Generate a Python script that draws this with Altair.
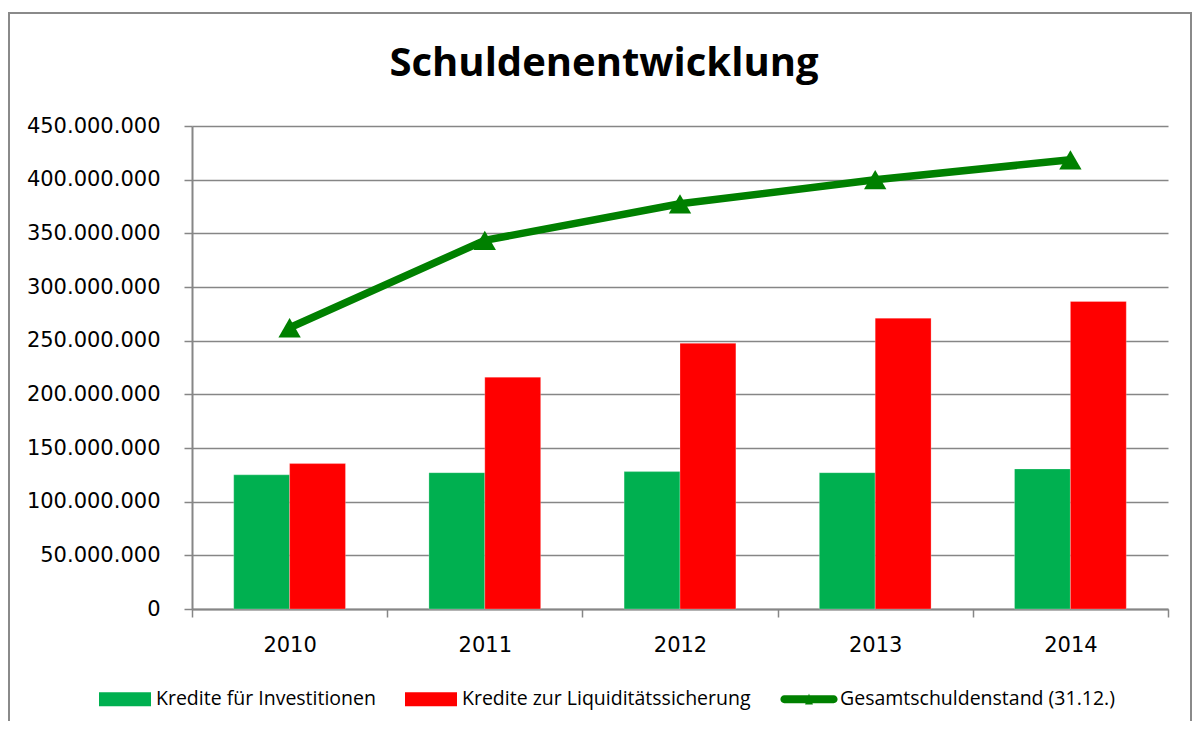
import altair as alt
import pandas as pd

years = ["2010", "2011", "2012", "2013", "2014"]
invest = [125000000, 127000000, 128000000, 127000000, 130500000]
liquid = [135500000, 216000000, 247500000, 271000000, 286500000]
total = [262000000, 343500000, 377500000, 400000000, 418500000]
series = ["Kredite für Investitionen", "Kredite zur Liquiditätssicherung", "Gesamtschuldenstand (31.12.)"]
colors = ["#00B050", "#FF0000", "#008000"]
y_ticks = [0, 50000000, 100000000, 150000000, 200000000, 250000000, 300000000, 350000000, 400000000, 450000000]

bars_df = pd.DataFrame(
    [{"year": y, "series": series[0], "value": v} for y, v in zip(years, invest)]
    + [{"year": y, "series": series[1], "value": v} for y, v in zip(years, liquid)]
)
line_df = pd.DataFrame([{"year": y, "series": series[2], "value": v} for y, v in zip(years, total)])
all_df = pd.concat([bars_df, line_df], ignore_index=True)

GRAY = "#868686"
color_scale = alt.Scale(domain=series, range=colors)

RECT = "M-1,-0.27H1V0.27H-1Z"
LINE = ("M-0.95,-0.15H0.95A0.15,0.15 0 0 1 0.95,0.15H-0.95A0.15,0.15 0 0 1 -0.95,-0.15Z"
        "M-0.15,0.2L0,-0.22L0.15,0.2Z")
shape_scale = alt.Scale(domain=series, range=[RECT, RECT, LINE])

legend = alt.Legend(
    orient="none", legendX=-93, legendY=547, direction="horizontal", title=None,
    labelFont="Open Sans", labelFontSize=19.5, labelColor="black", labelOffset=5,
    labelLimit=500, columnPadding=29, symbolSize=2704, symbolOpacity=1,
    symbolStrokeWidth=0,
)

x_enc = alt.X(
    "year:N",
    scale=alt.Scale(paddingInner=0, paddingOuter=0),
    axis=alt.Axis(title=None, labelAngle=0, tickBand="extent", labelFont="DejaVu Sans",
                  labelFontSize=21, labelColor="black", labelPadding=17, tickSize=8,
                  tickColor=GRAY, tickWidth=1.5, domainColor=GRAY, domainWidth=2, grid=False),
)
y_enc = alt.Y(
    "value:Q",
    scale=alt.Scale(domain=[0, 450000000], nice=False),
    axis=alt.Axis(title=None, values=y_ticks,
                  labelExpr="replace(format(datum.value, ','), regexp(',', 'g'), '.')",
                  labelFont="DejaVu Sans", labelFontSize=21, labelColor="black",
                  labelPadding=24, tickSize=8, tickColor=GRAY, tickWidth=1.5,
                  domainColor=GRAY, domainWidth=2, gridColor=GRAY, gridWidth=1.5),
)
color_nolegend = alt.Color("series:N", scale=color_scale, legend=None)

frame = alt.Chart(pd.DataFrame({"a": [0]})).mark_rect(
    fillOpacity=0, stroke="#8a8a8a", strokeWidth=2
).encode(x=alt.value(-183), x2=alt.value(999), y=alt.value(-113), y2=alt.value(700))

bars = alt.Chart(bars_df).mark_bar(stroke="#ffffff", strokeWidth=0.5, strokeOpacity=0.5).encode(
    x=x_enc,
    xOffset=alt.XOffset("series:N", scale=alt.Scale(domain=series[:2], paddingInner=0, paddingOuter=0.7465)),
    y=y_enc,
    color=color_nolegend,
)
line = alt.Chart(line_df).mark_line(strokeWidth=7.5).encode(x=x_enc, y=y_enc, color=color_nolegend)
points = alt.Chart(line_df).mark_point(shape="triangle-up", filled=True, size=500, opacity=1).encode(
    x=x_enc, y=y_enc, color=color_nolegend
)
legend_layer = alt.Chart(all_df).transform_filter("datum.value < 0").mark_point(filled=True).encode(
    x=x_enc, y=y_enc,
    color=alt.Color("series:N", scale=color_scale, legend=legend),
    shape=alt.Shape("series:N", scale=shape_scale, legend=legend),
)

chart = alt.layer(frame, bars, line, points, legend_layer).properties(
    width=976, height=483,
    padding={"left": 184, "top": 118, "right": 24, "bottom": 112},
    autosize="none",
    title=alt.TitleParams("Schuldenentwicklung", font="Open Sans", fontSize=40, fontWeight="bold",
                          anchor="middle", dx=-76, offset=0, dy=104, baseline="alphabetic", color="black"),
).resolve_legend(color="independent", shape="independent").configure_view(stroke=None)

chart.save("out.html", embed_options={"renderer": "svg", "actions": False})
